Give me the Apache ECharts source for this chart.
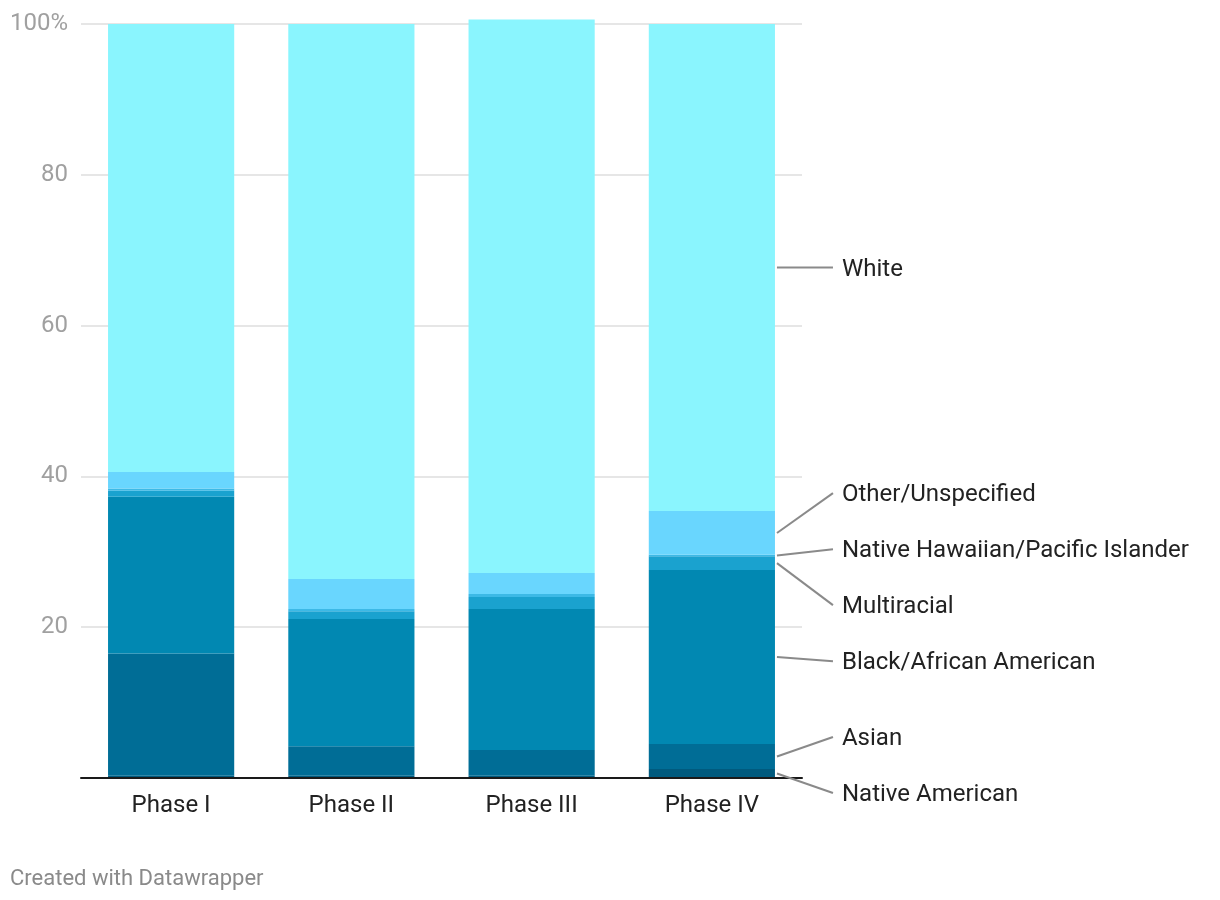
<!DOCTYPE html>
<html><head><meta charset="utf-8">
<script src="https://cdn.jsdelivr.net/npm/echarts@6/dist/echarts.min.js"></script>
<style>html,body{margin:0;padding:0;background:#fff}#c{width:1220px;height:900px}</style>
</head><body><div id="c"></div>
<script>
// ---- data ----
const categories = ['Phase I', 'Phase II', 'Phase III', 'Phase IV'];
const seriesNames = ['Native American', 'Asian', 'Black/African American', 'Multiracial',
  'Native Hawaiian/Pacific Islander', 'Other/Unspecified', 'White'];
const nativeAmerican = [0.3, 0.3, 0.3, 1.2];
const asian = [16.2, 3.9, 3.4, 3.3];
const black = [20.8, 16.9, 18.7, 23.1];
const multiracial = [0.8, 1.0, 1.6, 1.8];
const nativeHawaiian = [0.3, 0.3, 0.4, 0.2];
const otherUnspecified = [2.2, 4.0, 2.8, 5.8];
const white = [59.4, 73.6, 73.4, 64.6];
const yTicks = [0, 20, 40, 60, 80, 100];

// ---- styles ----
const colors = ['#005a7e', '#006d96', '#0188b2', '#1aa2cf', '#3cb9e6', '#69d6fe', '#8af5fe'];
const FONT = 'Roboto, "Noto Sans", sans-serif';

const seriesValues = [nativeAmerican, asian, black, multiracial, nativeHawaiian, otherUnspecified, white];
const labelCat = categories.length - 1; // labels attach to the last bar

// midpoints (in data units) of each segment of the last bar
const mids = [];
let acc = 0;
seriesValues.forEach(vals => {
  const v = vals[labelCat];
  mids.push(acc + v / 2);
  acc += v;
});

function resolveLabels(ys, gap) {
  const order = ys.map((y, i) => i).sort((a, b) => ys[a] - ys[b]);
  let clusters = order.map(i => ({ items: [i], sum: ys[i] }));
  const start = c => c.sum / c.items.length - (c.items.length - 1) * gap / 2;
  let changed = true;
  while (changed) {
    changed = false;
    for (let k = 0; k < clusters.length - 1; k++) {
      const a = clusters[k], b = clusters[k + 1];
      if (start(a) + a.items.length * gap > start(b)) {
        clusters.splice(k, 2, { items: a.items.concat(b.items), sum: a.sum + b.sum });
        changed = true;
        break;
      }
    }
  }
  const out = [];
  clusters.forEach(c => {
    const s = start(c);
    c.items.forEach((i, j) => { out[i] = s + j * gap; });
  });
  return out;
}

const chart = echarts.init(document.getElementById('c'), null, { renderer: 'canvas' });

const barSeries = seriesNames.map((name, i) => ({
  name: name,
  type: 'bar',
  stack: 'total',
  data: seriesValues[i],
  barCategoryGap: '30%',
  clip: false,
  itemStyle: { color: colors[i] },
  emphasis: { disabled: true },
  silent: true
}));

const labelSeries = {
  type: 'custom',
  silent: true,
  clip: false,
  z: 10,
  encode: { x: 0, y: 1 },
  data: mids.map(m => [labelCat, m]),
  renderItem: function (params, api) {
    const idx = params.dataIndex;
    const desired = mids.map(m => api.coord([labelCat, m])[1]);
    const placed = resolveLabels(desired, 56);
    const band = api.size([1, 0])[0];
    const barRight = api.coord([labelCat, 0])[0] + band * 0.35;
    const y0 = desired[idx], y1 = placed[idx];
    return {
      type: 'group',
      children: [
        {
          type: 'polyline',
          shape: { points: [[barRight + 2, y0], [barRight + 58, y1]] },
          style: { stroke: '#8a8a8a', lineWidth: 2, fill: null }
        },
        {
          type: 'text',
          x: barRight + 67,
          y: y1 + 2,
          style: {
            text: seriesNames[idx],
            fill: '#222',
            font: '24px ' + FONT,
            textAlign: 'left',
            textVerticalAlign: 'middle',
            verticalAlign: 'middle'
          }
        }
      ]
    };
  }
};

chart.setOption({
  animation: false,
  backgroundColor: '#fff',
  textStyle: { fontFamily: FONT },
  title: {
    text: 'Created with Datawrapper',
    left: 10, top: 868, padding: 0,
    textStyle: { fontSize: 22, fontWeight: 'normal', color: '#8a8a8a', fontFamily: FONT }
  },
  grid: { left: 81, right: 418, top: 24, bottom: 122, containLabel: false },
  xAxis: {
    type: 'category',
    data: categories,
    axisLine: { show: true, lineStyle: { color: '#1a1a1a', width: 2 } },
    axisTick: { show: false },
    axisLabel: { fontSize: 24, color: '#222', margin: 16, fontFamily: FONT },
    z: 5
  },
  yAxis: {
    type: 'value',
    min: yTicks[0],
    max: yTicks[yTicks.length - 1],
    interval: yTicks[1] - yTicks[0],
    axisLine: { show: false },
    axisTick: { show: false },
    splitLine: { lineStyle: { color: '#e6e6e6', width: 2 } },
    axisLabel: {
      showMinLabel: false,
      fontSize: 24, color: '#a0a0a0', margin: 13, fontFamily: FONT,
      padding: [8, 0, 0, 0],
      formatter: v => (v === yTicks[yTicks.length - 1] ? v + '%' : String(v))
    }
  },
  series: barSeries.concat([labelSeries])
});
</script>
</body></html>
